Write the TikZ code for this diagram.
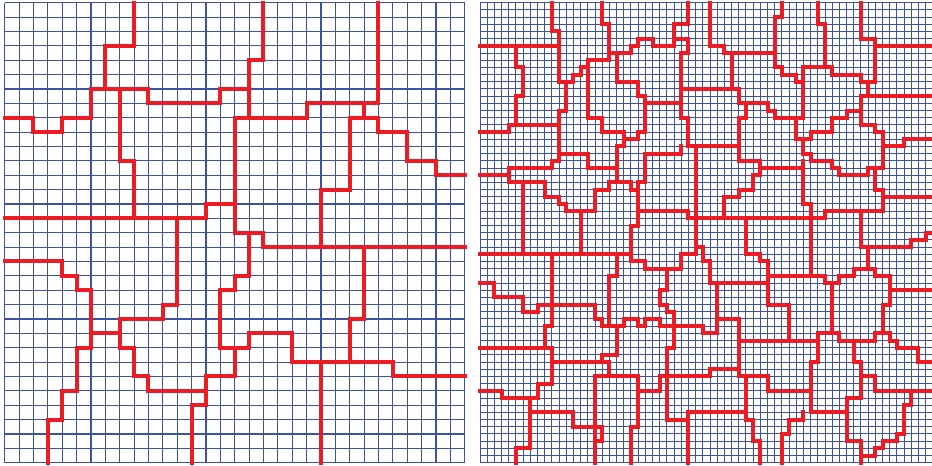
\documentclass[tikz,border=0pt]{standalone}
\definecolor{gridblue}{RGB}{62,82,165}
\definecolor{partred}{RGB}{237,28,36}
\begin{document}
\begin{tikzpicture}[x=1pt,y=-1pt,
  gridline/.style={draw=gridblue, line width=1.1pt},
  finegrid/.style={draw=gridblue, line width=1pt},
  cut/.style={draw=partred, line width=4pt, line cap=rect, line join=miter}]
\useasboundingbox (0,0) rectangle (932,466);
\fill[white] (0,0) rectangle (932,466);
% ---------------- left panel ----------------
\begin{scope}[shift={(4.7pt,-2.7pt)}, x=14.375pt, y=-14.375pt]
  \draw[gridline] foreach \k in {0,...,32} {(\k,0)--(\k,32) (0,\k)--(32,\k)};
  \draw[cut] (9,0)--(9,3)--(7,3)--(7,6);
  \draw[cut] (0,8)--(2,8)--(2,9)--(4,9)--(4,8)--(6,8)--(6,6)--(10,6)--(10,7)--(15,7)--(15,6)--(17,6);
  \draw[cut] (8,6)--(8,11)--(9,11)--(9,15);
  \draw[cut] (0,15)--(14,15)--(14,14)--(16,14);
  \draw[cut] (12,15)--(12,21)--(11,21)--(11,22)--(8,22)--(8,24)--(9,24)--(9,26)--(10,26)--(10,27)--(14,27);
  \draw[cut] (6,23)--(8,23);
  \draw[cut] (18,0)--(18,4)--(17,4)--(17,8);
  \draw[cut] (16,8)--(21,8)--(21,7)--(26,7)--(26,0);
  \draw[cut] (25,7)--(25,8);
  \draw[cut] (24,8)--(26,8)--(26,9)--(28,9)--(28,11)--(30,11)--(30,12)--(32,12);
  \draw[cut] (24,8)--(24,13)--(22,13)--(22,17);
  \draw[cut] (16,8)--(16,16)--(18,16)--(18,17)--(32,17);
  \draw[cut] (17,16)--(17,19)--(16,19)--(16,20)--(15,20)--(15,24)--(17,24)--(17,23)--(20,23)--(20,25);
  \draw[cut] (16,24)--(16,26)--(14,26)--(14,28)--(13,28)--(13,32);
  \draw[cut] (0,18)--(4,18)--(4,19)--(5,19)--(5,20)--(6,20)--(6,24)--(5,24)--(5,27)--(4,27)--(4,29)--(3,29)--(3,32);
  \draw[cut] (25,17)--(25,22)--(24,22)--(24,25);
  \draw[cut] (20,25)--(27,25)--(27,26)--(32,26);
  \draw[cut] (22,25)--(22,32);
\end{scope}
% ---------------- right panel ----------------
\begin{scope}
\clip (478,0) rectangle (932,466);
\begin{scope}[shift={(480pt,-2.7pt)}, x=7.1875pt, y=-7.1875pt]
  \draw[finegrid] foreach \k in {0,...,64} {(\k,0)--(\k,64) (0,\k)--(64,\k)};
  % top half
  \draw[cut] (10,0)--(10,4)--(11,4)--(11,11)--(13,11)--(13,10)--(14,10)--(14,9)--(15,9);
  \draw[cut] (15,8)--(15,16)--(17,16)--(17,18)--(20,18)--(20,20)--(19,20)--(19,25);
  \draw[cut] (20,19)--(22,19)--(22,18)--(23,18)--(23,13)--(22,13)--(22,11)--(19,11)--(19,7);
  \draw[cut] (15,8)--(18,8)--(18,3)--(17,3)--(17,0);
  \draw[cut] (0,6)--(11,6);
  \draw[cut] (5,6)--(5,9)--(6,9)--(6,13)--(5,13)--(5,17);
  \draw[cut] (12,11)--(12,15)--(11,15)--(11,22)--(10,22)--(10,23)--(4,23);
  \draw[cut] (0,18)--(4,18)--(4,17)--(11,17);
  \draw[cut] (11,21)--(15,21)--(15,23)--(19,23);
  \draw[cut] (0,24)--(4,24);
  \draw[cut] (4,23)--(4,25)--(9,25)--(9,27)--(11,27)--(11,28)--(12,28)--(12,29)--(16,29)--(16,26)--(18,26)--(18,25)--(21,25)--(21,26)--(22,26)--(22,31)--(21,31)--(21,35);
  \draw[cut] (22,26)--(22,25)--(23,25)--(23,21)--(28,21)--(28,20);
  \draw[cut] (6,25)--(6,35);
  \draw[cut] (14,29)--(14,35);
  \draw[cut] (18,7)--(21,7)--(21,6)--(22,6)--(22,5)--(24,5)--(24,6)--(27,6)--(27,3)--(29,3)--(29,0);
  \draw[cut] (27,5)--(29,5)--(29,7)--(28,7)--(28,16)--(29,16)--(29,20)--(36,20);
  \draw[cut] (23,14)--(28,14);
  \draw[cut] (28,12)--(36,12)--(36,14)--(40,14)--(40,15)--(41,15)--(41,16)--(45,16);
  \draw[cut] (30,20)--(30,35);
  \draw[cut] (22,29)--(29,29)--(29,30)--(48,30)--(48,29)--(56,29);
  \draw[cut] (32,0)--(32,6)--(34,6)--(34,7)--(41,7);
  \draw[cut] (35,7)--(35,12);
  \draw[cut] (42,0)--(42,2)--(41,2)--(41,9)--(42,9)--(42,10)--(44,10)--(44,11)--(45,11);
  \draw[cut] (45,9)--(45,16)--(44,16)--(44,19)--(46,19)--(46,18)--(49,18)--(49,16)--(51,16)--(51,15)--(53,15);
  \draw[cut] (45,9)--(48,9)--(48,3)--(47,3)--(47,0);
  \draw[cut] (45,19)--(45,21)--(46,21)--(46,22)--(49,22)--(49,23)--(50,23)--(50,24)--(54,24)--(54,23)--(56,23);
  \draw[cut] (37,14)--(37,16)--(36,16)--(36,22)--(39,22)--(39,24)--(38,24)--(38,26)--(36,26)--(36,27)--(34,27)--(34,30);
  \draw[cut] (39,23)--(45,23);
  \draw[cut] (45,22)--(45,28)--(46,28)--(46,38);
  \draw[cut] (37,30)--(37,35)--(39,35)--(39,36)--(40,36)--(40,42)--(43,42)--(43,47);
  \draw[cut] (48,9)--(49,9)--(49,10)--(53,10)--(53,11)--(55,11);
  \draw[cut] (53,0)--(53,5)--(55,5)--(55,11);
  \draw[cut] (55,6)--(64,6);
  \draw[cut] (54,11)--(54,13);
  \draw[cut] (53,13)--(64,13);
  \draw[cut] (53,13)--(53,17)--(55,17)--(55,18)--(56,18)--(56,23);
  \draw[cut] (56,20)--(59,20)--(59,19)--(64,19);
  \draw[cut] (55,23)--(55,26)--(56,26)--(56,29);
  \draw[cut] (56,27)--(64,27);
  \draw[cut] (53,29)--(53,34)--(60,34)--(60,33)--(62,33)--(62,32)--(64,32);
  % bottom half
  \draw[cut] (0,35)--(21,35)--(21,36)--(23,36)--(23,37)--(28,37)--(28,35)--(30,35);
  \draw[cut] (30,34)--(31,34)--(31,36)--(32,36)--(32,39)--(40,39);
  \draw[cut] (10,35)--(10,45)--(9,45)--(9,48)--(10,48)--(10,53)--(8,53)--(8,55)--(3,55)--(3,54)--(0,54);
  \draw[cut] (0,48)--(10,48);
  \draw[cut] (10,50)--(17,50)--(17,49)--(19,49)--(19,45);
  \draw[cut] (17,50)--(18,50)--(18,52);
  \draw[cut] (0,39)--(2,39)--(2,41)--(6,41)--(6,43)--(8,43)--(8,42)--(16,42)--(16,44)--(17,44)--(17,45)--(20,45)--(20,44)--(22,44)--(22,45)--(23,45)--(23,44)--(25,44)--(25,45)--(31,45)--(31,46)--(33,46)--(33,39);
  \draw[cut] (19,35)--(19,38)--(18,38)--(18,45);
  \draw[cut] (26,37)--(26,40)--(25,40)--(25,42)--(26,42)--(26,43)--(27,43)--(27,48)--(26,48)--(26,58)--(29,58)--(29,57)--(37,57);
  \draw[cut] (29,58)--(29,64);
  \draw[cut] (16,52)--(22,52)--(22,59)--(21,59)--(21,64);
  \draw[cut] (16,52)--(16,64);
  \draw[cut] (7,55)--(7,62)--(5,62)--(5,64);
  \draw[cut] (7,57)--(13,57)--(13,59)--(17,59)--(17,61)--(16,61);
  \draw[cut] (22,54)--(25,54)--(25,52)--(32,52)--(32,51)--(36,51);
  \draw[cut] (33,44)--(36,44)--(36,52)--(40,52)--(40,54)--(46,54);
  \draw[cut] (36,47)--(47,47);
  \draw[cut] (37,52)--(37,58)--(38,58)--(38,61)--(39,61)--(39,64);
  \draw[cut] (40,38)--(48,38)--(48,39)--(50,39)--(50,38)--(52,38)--(52,37)--(54,37)--(54,34);
  \draw[cut] (54,37)--(55,37)--(55,38)--(57,38)--(57,42)--(56,42)--(56,46);
  \draw[cut] (57,40)--(64,40);
  \draw[cut] (49,39)--(49,46);
  \draw[cut] (47,46)--(50,46)--(50,47)--(55,47)--(55,46)--(57,46)--(57,47)--(58,47)--(58,48)--(61,48)--(61,50)--(64,50);
  \draw[cut] (47,46)--(47,50)--(46,50)--(46,57)--(51,57);
  \draw[cut] (45,57)--(45,58)--(43,58)--(43,60)--(42,60)--(42,64);
  \draw[cut] (52,47)--(52,50)--(53,50)--(53,55)--(51,55)--(51,61)--(53,61)--(53,64);
  \draw[cut] (53,52)--(55,52)--(55,54)--(64,54);
  \draw[cut] (60,54)--(60,56)--(59,56)--(59,60)--(58,60)--(58,61)--(56,61)--(56,62)--(55,62)--(55,63)--(53,63);
\end{scope}
\end{scope}
\end{tikzpicture}
\end{document}
